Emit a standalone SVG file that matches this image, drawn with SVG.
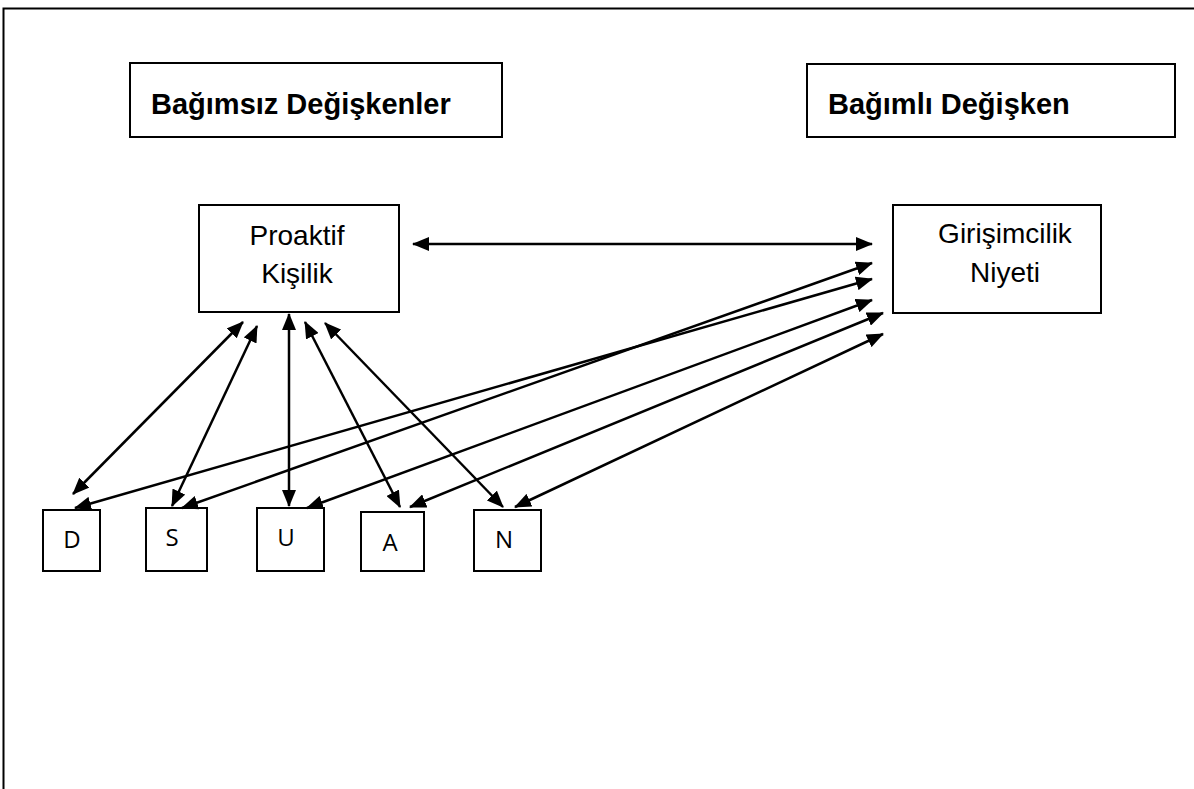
<svg xmlns="http://www.w3.org/2000/svg" width="1194" height="789" viewBox="0 0 1194 789">
<style>
.box{fill:#fff;stroke:#000;stroke-width:2}
.title{font-family:"Liberation Sans",Arial,sans-serif;font-weight:bold;font-size:29px;fill:#000}
.lbl{font-family:"Liberation Sans",Arial,sans-serif;font-size:28px;fill:#000;text-anchor:middle}
.sm{font-family:"Open Sans","Noto Sans",sans-serif;font-size:24px;fill:#000;text-anchor:middle}
.con{stroke:#000;stroke-width:2.5;fill:none;marker-start:url(#ah);marker-end:url(#ah)}
</style>
<defs>
<marker id="ah" markerUnits="userSpaceOnUse" markerWidth="18" markerHeight="14" refX="16" refY="7" orient="auto-start-reverse">
<path d="M0,0 L17,7 L0,14 z" fill="#000"/>
</marker>
</defs>
<rect x="0" y="0" width="1194" height="789" fill="#fff"/>
<rect x="3.5" y="8.5" width="1200" height="800" fill="none" stroke="#000" stroke-width="2"/>
<g id="title-independent">
<rect class="box" x="130" y="63" width="372" height="74"/>
<text class="title" x="151" y="114">Bağımsız Değişkenler</text>
</g>
<g id="title-dependent">
<rect class="box" x="807" y="64" width="368" height="73"/>
<text class="title" x="828" y="114">Bağımlı Değişken</text>
</g>
<g id="proaktif">
<rect class="box" x="199" y="205" width="200" height="107"/>
<text class="lbl" x="297" y="245">Proaktif</text>
<text class="lbl" x="297" y="283">Kişilik</text>
</g>
<g id="girisimcilik">
<rect class="box" x="893" y="205" width="208" height="108"/>
<text class="lbl" x="1005" y="243">Girişimcilik</text>
<text class="lbl" x="1005" y="282">Niyeti</text>
</g>
<g id="D">
<rect class="box" x="43" y="510" width="57" height="61"/>
<text class="sm" x="72" y="548">D</text>
</g>
<g id="S">
<rect class="box" x="146" y="508" width="61" height="63"/>
<text class="sm" x="172" y="546">S</text>
</g>
<g id="U">
<rect class="box" x="257" y="508" width="67" height="63"/>
<text class="sm" x="286" y="546">U</text>
</g>
<g id="A">
<rect class="box" x="361" y="512" width="63" height="59"/>
<text class="sm" x="390" y="551">A</text>
</g>
<g id="N">
<rect class="box" x="474" y="510" width="67" height="61"/>
<text class="sm" x="504" y="548">N</text>
</g>
<g id="connectors">
<line class="con" x1="413" y1="244" x2="872" y2="244"/>
<line class="con" x1="73" y1="494" x2="243" y2="322"/>
<line class="con" x1="172" y1="506" x2="257" y2="326"/>
<line class="con" x1="289" y1="506" x2="289" y2="314"/>
<line class="con" x1="400" y1="507" x2="305" y2="322"/>
<line class="con" x1="503" y1="507" x2="325" y2="323"/>
<line class="con" x1="75" y1="508" x2="872" y2="279"/>
<line class="con" x1="182" y1="508" x2="872" y2="263"/>
<line class="con" x1="307" y1="508" x2="872" y2="300"/>
<line class="con" x1="410" y1="507" x2="883" y2="313"/>
<line class="con" x1="515" y1="507" x2="883" y2="334"/>
</g>
</svg>
